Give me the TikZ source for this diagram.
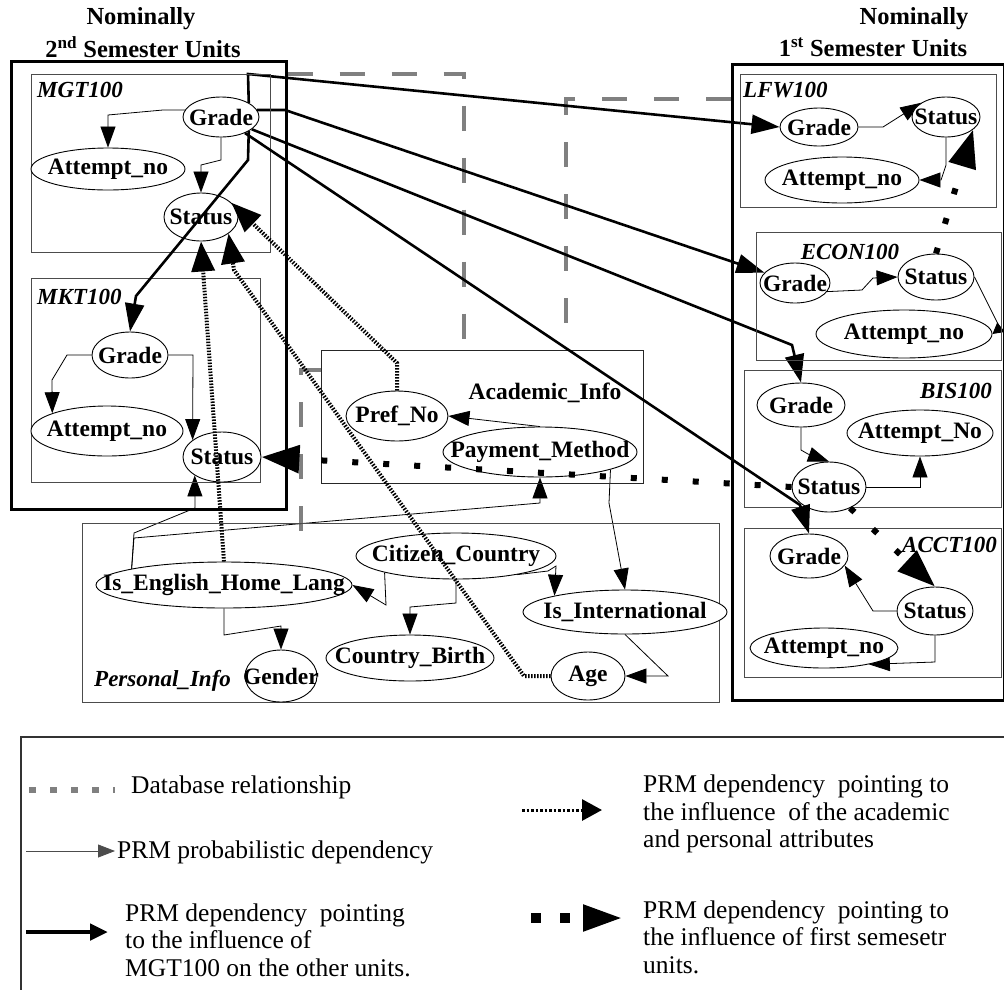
\documentclass[tikz,border=0pt]{standalone}
\usepackage{fontspec}
\setmainfont{Liberation Serif}
\usetikzlibrary{arrows.meta,shapes.geometric}
\pgfdeclarelayer{bg}
\pgfsetlayers{bg,main}
\newcommand{\attrfont}{\fontsize{23.5}{27}\selectfont\bfseries}
\newcommand{\unitfont}{\fontsize{23}{27}\selectfont\bfseries\itshape}
\newcommand{\headfont}{\fontsize{24.5}{29}\selectfont\bfseries}
\newcommand{\legfont}{\fontsize{25.5}{27.5}\selectfont}
\newcommand{\attrtext}[1]{\makebox[0pt]{#1}}
\begin{document}
\begin{tikzpicture}[x=1pt,y=-1pt,
  attr/.style={ellipse,draw,line width=0.9pt,fill=white,inner sep=0pt,font=\attrfont},
  outerbox/.style={draw,line width=2.5pt,inner sep=0pt,anchor=north west},
  unitbox/.style={draw=black!70,line width=1.1pt,inner sep=0pt,anchor=north west},
  unitlabel/.style={font=\unitfont,inner sep=0pt},
  head/.style={font=\headfont,inner sep=0pt},
  legtext/.style={font=\legfont,inner sep=0pt,anchor=west,align=left},
  dep/.style={line width=0.8pt,-{Triangle[length=21pt,width=15pt]}},
  mgtdep/.style={line width=2.6pt,-{Triangle[length=28pt,width=19pt]}},
  acaddep/.style={line width=4pt,dash pattern=on 1.5pt off 1.5pt,-{Triangle[length=30pt,width=23pt]}},
  semdep/.style={line width=6pt,dash pattern=on 6pt off 25pt,-{Triangle[length=38pt,width=27pt]}},
  dbrel/.style={draw=gray,line width=4.5pt,dash pattern=on 25pt off 27pt},
]
\useasboundingbox (0,0) rectangle (1004,989);

% ---------- containers ----------
\node[outerbox,minimum width=275pt,minimum height=448pt] (sem2Box) at (10,60) {};
\node[unitbox,minimum width=239pt,minimum height=178pt] (mgtBox) at (31,74) {};
\node[unitbox,minimum width=229pt,minimum height=204pt] (mktBox) at (31,278) {};
\node[unitbox,draw=black!85,minimum width=322pt,minimum height=133pt] (acadBox) at (321,350) {};
\node[unitbox,minimum width=637pt,minimum height=179pt] (persBox) at (82,523) {};
\node[outerbox,minimum width=272pt,minimum height=636pt] (sem1Box) at (731,63) {};
\node[unitbox,minimum width=256pt,minimum height=133pt] (lfwBox) at (740,74) {};
\node[unitbox,minimum width=245pt,minimum height=128pt] (econBox) at (756,232) {};
\node[unitbox,minimum width=257pt,minimum height=137pt] (bisBox) at (744,370) {};
\node[unitbox,minimum width=257pt,minimum height=149pt] (acctBox) at (744,528) {};

% ---------- headings and labels ----------
\node[head] (h2a) at (141,19) {Nominally};
\node[head] (h2b) at (143,47) {2\textsuperscript{nd} Semester Units};
\node[head] (h1a) at (914,19) {Nominally};
\node[head] (h1b) at (873,47) {1\textsuperscript{st} Semester Units};

\node[unitlabel,anchor=west] (mgtLbl) at (37,90) {MGT100};
\node[unitlabel,anchor=west] (mktLbl) at (37,297) {MKT100};
\node[unitlabel,anchor=west] (lfwLbl) at (743,90) {LFW100};
\node[unitlabel] (econLbl) at (850,252) {ECON100};
\node[unitlabel,anchor=east] (bisLbl) at (992,391) {BIS100};
\node[unitlabel,anchor=east] (acctLbl) at (997,545) {ACCT100};
\node[font=\attrfont,inner sep=0pt] (acadLbl) at (545,393) {Academic\_Info};
\node[unitlabel,anchor=west] (persLbl) at (94,681) {Personal\_Info};

% ---------- attributes ----------
\node[attr,minimum width=76pt,minimum height=40pt] (mgtGrade) at (221,117) {\attrtext{Grade}};
\node[attr,minimum width=154pt,minimum height=42pt] (mgtAtt) at (108,169) {\attrtext{Attempt\_no}};
\node[attr,minimum width=74pt,minimum height=48pt] (mgtStatus) at (201,217) {\attrtext{Status}};

\node[attr,minimum width=76pt,minimum height=46pt] (mktGrade) at (130,355) {\attrtext{Grade}};
\node[attr,minimum width=152pt,minimum height=50pt] (mktAtt) at (107,431) {\attrtext{Attempt\_no}};
\node[attr,minimum width=78pt,minimum height=50pt] (mktStatus) at (222,457) {\attrtext{Status}};

\node[attr,minimum width=102pt,minimum height=50pt] (pref) at (397,416) {\attrtext{Pref\_No}};
\node[attr,minimum width=194pt,minimum height=50pt] (payment) at (540,452) {\attrtext{Payment\_Method}};

\node[attr,minimum width=256pt,minimum height=46pt] (isEng) at (224,585) {\attrtext{Is\_English\_Home\_Lang}};
\node[attr,minimum width=200pt,minimum height=46pt] (citizen) at (456,556) {\attrtext{Citizen\_Country}};
\node[attr,minimum width=204pt,minimum height=44pt] (isInt) at (625,612) {\attrtext{Is\_International}};
\node[attr,minimum width=72pt,minimum height=52pt] (gender) at (281,676) {\attrtext{Gender}};
\node[attr,minimum width=168pt,minimum height=46pt] (country) at (410,658) {\attrtext{Country\_Birth}};
\node[attr,minimum width=74pt,minimum height=48pt] (age) at (588,676) {\attrtext{Age}};

\node[attr,minimum width=78pt,minimum height=38pt] (lfwGrade) at (819,127) {\attrtext{Grade}};
\node[attr,minimum width=68pt,minimum height=40pt] (lfwStatus) at (946,117) {\attrtext{Status}};
\node[attr,minimum width=154pt,minimum height=46pt] (lfwAtt) at (842,180) {\attrtext{Attempt\_no}};

\node[attr,minimum width=70pt,minimum height=40pt] (econGrade) at (795,283) {\attrtext{Grade}};
\node[attr,minimum width=76pt,minimum height=46pt] (econStatus) at (936,277) {\attrtext{Status}};
\node[attr,minimum width=176pt,minimum height=48pt] (econAtt) at (904,334) {\attrtext{Attempt\_no}};

\node[attr,minimum width=88pt,minimum height=44pt] (bisGrade) at (801,405) {\attrtext{Grade}};
\node[attr,minimum width=146pt,minimum height=46pt] (bisAtt) at (920,433) {\attrtext{Attempt\_No}};
\node[attr,minimum width=74pt,minimum height=50pt] (bisStatus) at (829,487) {\attrtext{Status}};

\node[attr,minimum width=78pt,minimum height=44pt] (acctGrade) at (809,556) {\attrtext{Grade}};
\node[attr,minimum width=76pt,minimum height=48pt] (acctStatus) at (935,611) {\attrtext{Status}};
\node[attr,minimum width=148pt,minimum height=40pt] (acctAtt) at (824,648) {\attrtext{Attempt\_no}};

% ---------- connectors drawn beneath the attributes ----------
\coordinate (g1c) at (464,74);
\coordinate (g2c) at (566,99);
\coordinate (g3c) at (301,370);
\coordinate (g3e) at (301,533);
\begin{pgfonlayer}{bg}
  % database relationships
  \draw[dbrel] (sem2Box.east |- g1c) -- (g1c) -- (g1c |- acadBox.north);
  \draw[dbrel] (sem1Box.west |- g2c) -- (g2c) -- (g2c |- acadBox.north);
  \draw[dbrel] (acadBox.west |- g3c) -- (g3c) -- (g3e);

  % MGT100
  \draw[dep] (mgtGrade.169) -- (163,110) -- (108,115) -- (mgtAtt.north);
  \draw[dep] (mgtGrade.south) -- (221,160) -- (201,165) -- (mgtStatus.north);
  % MKT100
  \draw[dep] (mktGrade.west) -- (67,355) -- (52,380) -- (mktAtt.162);
  \draw[dep] (mktGrade.east) -- (193,355) -- (mktStatus.150);
  \draw[dep] (isEng.170) -- (134,533) -- (195,508) -- (mktStatus.214);
  % Academic_Info
  \draw[dep] (isEng.170) -- (134,538) -- (540,503) -- (payment.south);
  \draw[dep] (payment.north) -- (pref.east);
  \draw[dep] (payment.346) -- (609,503) -- (isInt.north);
  % Personal_Info
  \draw[dep] (isEng.south) -- (224,635) -- (281,626) -- (gender.north);
  \draw[dep] (citizen.193) -- (386,605) -- (isEng.east);
  \draw[dep] (citizen.south) -- (456,603) -- (410,607) -- (country.north);
  \draw[dep] (citizen.343) -- (548,571) -- (556,566) -- (isInt.167);
  \draw[dep] (isInt.south) -- (668,676) -- (age.east);
  % LFW100
  \draw[dep] (lfwGrade.east) -- (883,127) -- (lfwStatus.150);
  \draw[dep] (lfwStatus.south) -- (946,165) -- (941,180) -- (lfwAtt.east);
  % ECON100
  \draw[dep] (econGrade.345) -- (862,290) -- (873,278) -- (econStatus.west);
  \draw[line width=0.8pt,-{Triangle[length=11pt,width=12pt]}] (econStatus.east) -- (1000,328) -- (econAtt.east);
  % BIS100
  \draw[dep] (bisGrade.south) -- (801,450) -- (808,454) -- (bisStatus.north);
  \draw[dep] (bisStatus.east) -- (920,487) -- (bisAtt.south);
  % ACCT100
  \draw[dep] (acctStatus.west) -- (873,611) -- (acctGrade.345);
  \draw[dep] (acctStatus.south) -- (935,662) -- (acctAtt.340);

  % influence of MGT100
  \draw[mgtdep] (mgtGrade.27) -- (248,74) -- (lfwGrade.west);
  \draw[mgtdep] (mgtGrade.11) -- (285,110) -- (econGrade);
  \draw[mgtdep] (mgtGrade) -- (792,345) -- (bisGrade.north);
\end{pgfonlayer}

% ---------- connectors drawn over the attributes ----------
\draw[mgtdep] (mgtGrade.333) -- (248,160) -- (136,296) -- (mktGrade.north);
\draw[mgtdep] (mgtGrade) -- (800,505) -- (acctGrade.north);

% academic and personal influence
\draw[acaddep] (isEng.north) -- (mgtStatus.south);
\draw[acaddep] (pref.north) -- (397,363) -- (mgtStatus.25);
\draw[acaddep] (age.west) -- (524,676) -- (234,270) -- (mgtStatus.329);

% influence of first semester units
\draw[semdep] (bisStatus.west) -- (mktStatus.east);
\draw[semdep] (econStatus.north) -- (lfwStatus.335);
\draw[semdep] (bisStatus.315) -- (acctStatus.north);

% ---------- legend ----------
\draw[draw=black!80,line width=1.2pt] (21,737) rectangle (1012,1002);
\coordinate (lgA1) at (29,790);  \coordinate (lgA2) at (115,790);
\coordinate (lgB1) at (26,851);  \coordinate (lgB2) at (115,851);
\coordinate (lgC1) at (26,932);  \coordinate (lgC2) at (108,932);
\coordinate (lgD1) at (522,810); \coordinate (lgD2) at (602,810);
\coordinate (lgE1) at (531,918); \coordinate (lgE2) at (624,918);

\draw[draw=gray,line width=6pt,dash pattern=on 7pt off 14pt] (lgA1) -- (lgA2);
\node[legtext] (lgT1) at (131,787) {Database relationship};

\draw[line width=0.8pt,draw=black!70,-{Triangle[length=17pt,width=13pt]}] (lgB1) -- (lgB2);
\node[legtext] (lgT2) at (117,852) {PRM probabilistic dependency};

\draw[line width=4.5pt,-{Triangle[length=18pt,width=16pt]}] (lgC1) -- (lgC2);
\node[legtext] (lgT3) at (125,940) {PRM dependency~ pointing\\to the influence of\\MGT100 on the other units.};

\draw[line width=3pt,dash pattern=on 2.5pt off 2pt,-{Triangle[length=20pt,width=21pt]}] (lgD1) -- (lgD2);
\node[legtext] (lgT4) at (643,814) {PRM dependency~ pointing to\\the influence~ of the academic\\and personal attributes};

\draw[line width=10pt,dash pattern=on 10pt off 19pt,-{Triangle[length=41pt,width=24pt]}] (lgE1) -- (lgE2);
\node[legtext] (lgT5) at (643,937) {PRM dependency~ pointing to\\the influence of first semesetr\\units.};
\end{tikzpicture}
\end{document}
